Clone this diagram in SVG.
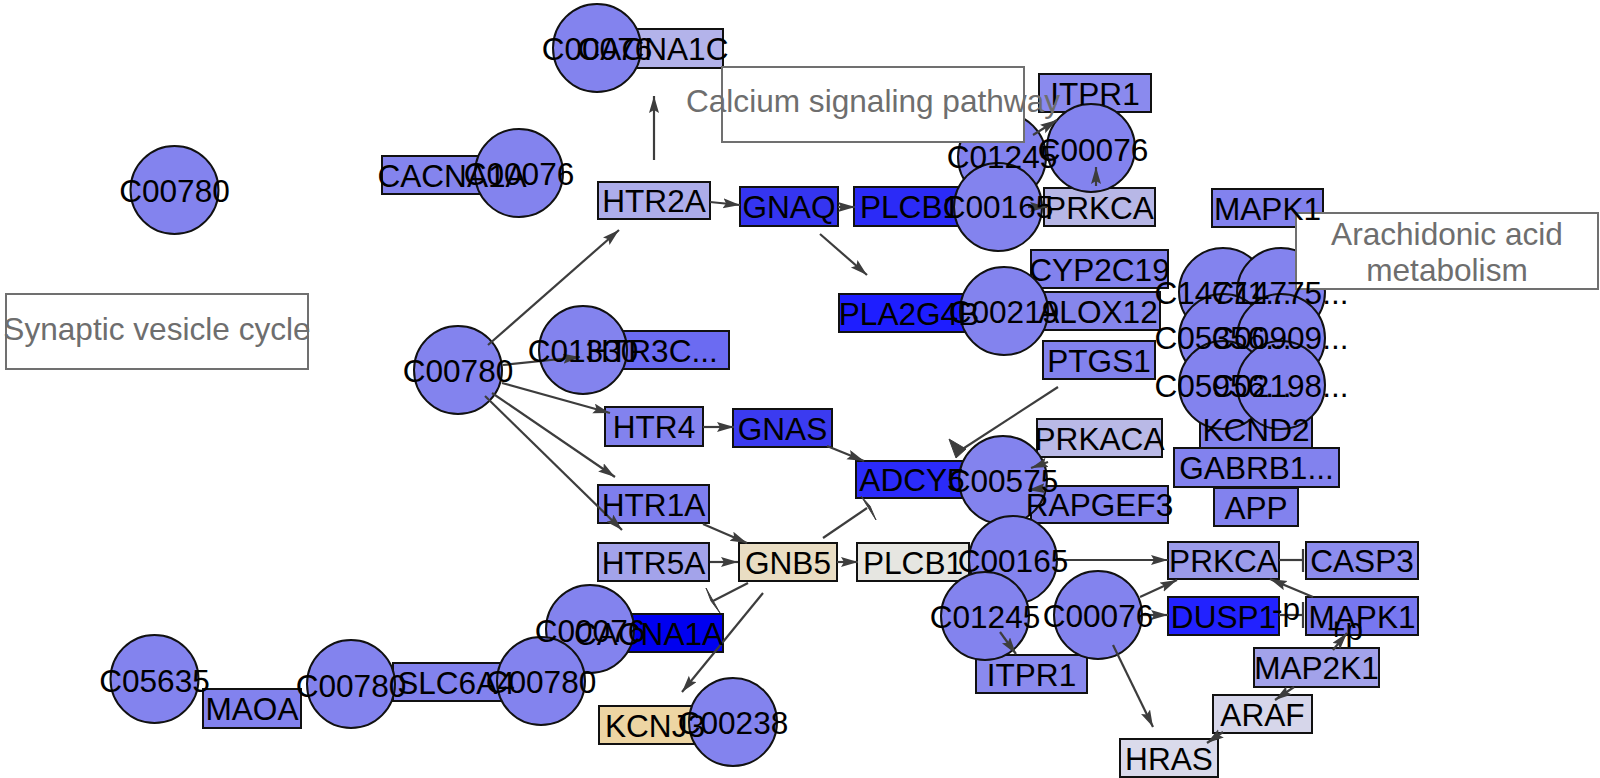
<svg xmlns="http://www.w3.org/2000/svg" width="1600" height="778" viewBox="0 0 1600 778">
<defs>
<style>
.g{stroke:#111;stroke-width:2}
.c{fill:#8383ee;stroke:#111;stroke-width:2}
.pw{fill:#fff;stroke:#707070;stroke-width:2}
.e{stroke:#3d3d3d;stroke-width:2.2;fill:none}
.ah{fill:#3d3d3d;stroke:#3d3d3d;stroke-width:1}
.l{font-family:"Liberation Sans",Arial,sans-serif;font-size:31.6px;fill:#000;text-anchor:middle}
.pt{font-family:"Liberation Sans",Arial,sans-serif;font-size:31.6px;fill:#6e6e6e;text-anchor:middle}
</style>
<marker id="arr" markerUnits="userSpaceOnUse" markerWidth="20" markerHeight="12" refX="17" refY="5" orient="auto">
<path d="M0,0 L17,5 L0,10 L3,5 z" fill="#3d3d3d"/>
</marker>
</defs>
<rect width="1600" height="778" fill="#fff"/>

<!-- gene nodes -->
<g id="node-CACNA1C-top"><rect class="g" x="583" y="29" width="140" height="39" fill="#b3b3ea"/></g>
<g id="node-CACNA1A-top"><rect class="g" x="382" y="156" width="140" height="38" fill="#8484ee"/></g>
<g id="node-HTR2A"><rect class="g" x="598" y="182" width="112" height="37" fill="#adadea"/></g>
<g id="node-GNAQ"><rect class="g" x="740" y="187" width="98" height="39" fill="#3535f0"/></g>
<g id="node-PLCB1-top"><rect class="g" x="854" y="187" width="112" height="39" fill="#2b2bf7"/></g>
<g id="node-ITPR1-top"><rect class="g" x="1039" y="74" width="112" height="38" fill="#8a8aee"/></g>
<g id="node-PRKCA-top"><rect class="g" x="1044" y="188" width="111" height="38" fill="#b7b7e6"/></g>
<g id="node-MAPK1-top"><rect class="g" x="1212" y="189" width="111" height="38" fill="#8282ee"/></g>
<g id="node-CYP2C19"><rect class="g" x="1031" y="250" width="137" height="38" fill="#8282ee"/></g>
<g id="node-ALOX12"><rect class="g" x="1036" y="292" width="124" height="38" fill="#8686ec"/></g>
<g id="node-PTGS1"><rect class="g" x="1043" y="341" width="112" height="38" fill="#8282ee"/></g>
<g id="node-PLA2G4B"><rect class="g" x="839" y="294" width="140" height="38" fill="#1e1eff"/></g>
<g id="node-HTR3C"><rect class="g" x="575" y="331" width="154" height="38" fill="#6b6bf2"/></g>
<g id="node-HTR4"><rect class="g" x="605" y="407" width="98" height="39" fill="#8282ee"/></g>
<g id="node-GNAS"><rect class="g" x="733" y="409" width="99" height="38" fill="#3b3bf0"/></g>
<g id="node-HTR1A"><rect class="g" x="598" y="485" width="111" height="38" fill="#7e7eee"/></g>
<g id="node-HTR5A"><rect class="g" x="598" y="543" width="111" height="38" fill="#a3a3ea"/></g>
<g id="node-GNB5"><rect class="g" x="739" y="543" width="98" height="38" fill="#e9ddc3"/></g>
<g id="node-PLCB1-low"><rect class="g" x="857" y="543" width="112" height="38" fill="#e6e6e1"/></g>
<g id="node-ADCY5"><rect class="g" x="856" y="461" width="112" height="37" fill="#2b2bfa"/></g>
<g id="node-PRKACA"><rect class="g" x="1037" y="419" width="125" height="38" fill="#b9b9e6"/></g>
<g id="node-RAPGEF3"><rect class="g" x="1031" y="486" width="137" height="37" fill="#8282ee"/></g>
<g id="node-KCND2"><rect class="g" x="1200" y="411" width="112" height="37" fill="#8282ee"/></g>
<g id="node-GABRB1"><rect class="g" x="1174" y="448" width="165" height="39" fill="#8282ee"/></g>
<g id="node-APP"><rect class="g" x="1214" y="488" width="84" height="38" fill="#8282ee"/></g>
<g id="node-PRKCA-low"><rect class="g" x="1168" y="542" width="111" height="37" fill="#9b9bea"/></g>
<g id="node-CASP3"><rect class="g" x="1306" y="542" width="112" height="37" fill="#8c8cee"/></g>
<g id="node-DUSP1"><rect class="g" x="1168" y="597" width="111" height="38" fill="#2222ff"/></g>
<g id="node-MAPK1-low"><rect class="g" x="1306" y="597" width="112" height="38" fill="#7777f0"/></g>
<g id="node-MAP2K1"><rect class="g" x="1254" y="648" width="125" height="39" fill="#a2a2ea"/></g>
<g id="node-ARAF"><rect class="g" x="1213" y="695" width="99" height="38" fill="#d6d6ea"/></g>
<g id="node-HRAS"><rect class="g" x="1120" y="739" width="98" height="38" fill="#dadaeb"/></g>
<g id="node-ITPR1-low"><rect class="g" x="976" y="655" width="111" height="38" fill="#8a8aee"/></g>
<g id="node-CACNA1A-low"><rect class="g" x="574" y="614" width="149" height="38" fill="#0000f0"/></g>
<g id="node-KCNJ3"><rect class="g" x="599" y="706" width="112" height="38" fill="#edd5a3"/></g>
<g id="node-MAOA"><rect class="g" x="203" y="689" width="98" height="39" fill="#8282ee"/></g>
<g id="node-SLC6A4"><rect class="g" x="393" y="663" width="126" height="38" fill="#8282ee"/></g>

<!-- compound nodes -->
<g id="node-C00780-a"><circle class="c" cx="174.5" cy="190" r="44"/></g>
<g id="node-C00076-a"><circle class="c" cx="597" cy="48" r="44"/></g>
<g id="node-C00076-b"><circle class="c" cx="519" cy="173" r="44"/></g>
<g id="node-C00780-b"><circle class="c" cx="458" cy="370" r="44"/></g>
<g id="node-C01330"><circle class="c" cx="583" cy="350" r="44"/></g>
<g id="node-C01245-a"><circle class="c" cx="1002" cy="157" r="44"/></g>
<g id="node-C00076-c"><circle class="c" cx="1091" cy="148" r="44"/></g>
<g id="node-C00165-a"><circle class="c" cx="998" cy="207" r="44"/></g>
<g id="node-C00219"><circle class="c" cx="1004" cy="311" r="44"/></g>
<g id="node-C14771"><circle class="c" cx="1223" cy="292" r="44"/></g>
<g id="node-C14775"><circle class="c" cx="1281" cy="292" r="44"/></g>
<g id="node-C05356"><circle class="c" cx="1223" cy="338" r="44"/></g>
<g id="node-C00909"><circle class="c" cx="1281" cy="338" r="44"/></g>
<g id="node-C05956"><circle class="c" cx="1223" cy="385" r="44"/></g>
<g id="node-C02198"><circle class="c" cx="1281" cy="385" r="44"/></g>
<g id="node-C00575"><circle class="c" cx="1003" cy="480" r="44"/></g>
<g id="node-C00165-b"><circle class="c" cx="1013" cy="560" r="44"/></g>
<g id="node-C01245-b"><circle class="c" cx="985" cy="616" r="44"/></g>
<g id="node-C00076-d"><circle class="c" cx="1098" cy="615" r="44"/></g>
<g id="node-C00238"><circle class="c" cx="733" cy="722" r="44"/></g>
<g id="node-C00076-e"><circle class="c" cx="590" cy="629" r="44"/></g>
<g id="node-C00780-c"><circle class="c" cx="541" cy="681" r="44"/></g>
<g id="node-C00780-d"><circle class="c" cx="351" cy="684" r="44"/></g>
<g id="node-C05635"><circle class="c" cx="154.5" cy="679" r="44"/></g>

<!-- pathway map nodes -->
<g id="map-calcium"><rect class="pw" x="722" y="67" width="302" height="75"/></g>
<g id="map-synaptic"><rect class="pw" x="6" y="294" width="302" height="75"/></g>
<g id="map-arachidonic"><rect class="pw" x="1296" y="213" width="302" height="76"/></g>

<!-- connectors -->
<g id="edges">
<line class="e" x1="654" y1="160" x2="654" y2="96" marker-end="url(#arr)"/>
<line class="e" x1="710" y1="202" x2="740" y2="205" marker-end="url(#arr)"/>
<line class="e" x1="838" y1="207" x2="855" y2="207" marker-end="url(#arr)"/>
<line class="e" x1="820" y1="234" x2="867" y2="275" marker-end="url(#arr)"/>
<line class="e" x1="1028" y1="207" x2="1047" y2="207" marker-end="url(#arr)"/>
<line class="e" x1="1096" y1="186" x2="1096" y2="167" marker-end="url(#arr)"/>
<line class="e" x1="1033" y1="135" x2="1057" y2="120" marker-end="url(#arr)"/>
<line class="e" x1="488" y1="345" x2="619" y2="230" marker-end="url(#arr)"/>
<line class="e" x1="503" y1="365" x2="580" y2="357" marker-end="url(#arr)"/>
<line class="e" x1="502" y1="383" x2="610" y2="413" marker-end="url(#arr)"/>
<line class="e" x1="492" y1="393" x2="615" y2="477" marker-end="url(#arr)"/>
<line class="e" x1="485" y1="396" x2="622" y2="530" marker-end="url(#arr)"/>
<line class="e" x1="703" y1="524" x2="747" y2="543" marker-end="url(#arr)"/>
<line class="e" x1="710" y1="562" x2="738" y2="562" marker-end="url(#arr)"/>
<line class="e" x1="703" y1="427" x2="734" y2="427" marker-end="url(#arr)"/>
<line class="e" x1="827" y1="446" x2="864" y2="461" marker-end="url(#arr)"/>
<line class="e" x1="823" y1="538" x2="867" y2="508"/>
<polygon class="ah" points="861,496 876,520 870,506"/>
<line class="e" x1="1058" y1="387" x2="958" y2="452"/>
<polygon class="ah" points="949,439 956,458 966,449"/>
<line class="e" x1="1048" y1="462" x2="1031" y2="468" marker-end="url(#arr)"/>
<line class="e" x1="1047" y1="488" x2="1028" y2="490" marker-end="url(#arr)"/>
<line class="e" x1="1056" y1="560" x2="1168" y2="560" marker-end="url(#arr)"/>
<line class="e" x1="1140" y1="597" x2="1177" y2="580" marker-end="url(#arr)"/>
<line class="e" x1="1142" y1="615" x2="1168" y2="615" marker-end="url(#arr)"/>
<line class="e" x1="1113" y1="645" x2="1153" y2="727" marker-end="url(#arr)"/>
<line class="e" x1="1000" y1="632" x2="1016" y2="654" marker-end="url(#arr)"/>
<line class="e" x1="1279" y1="560" x2="1303" y2="560"/>
<line class="e" x1="1303" y1="549" x2="1303" y2="572"/>
<line class="e" x1="1313" y1="597" x2="1270" y2="579" marker-end="url(#arr)"/>
<line class="e" x1="1279" y1="615" x2="1303" y2="615"/>
<line class="e" x1="1303" y1="602" x2="1303" y2="628"/>
<line class="e" x1="1333" y1="650" x2="1347" y2="633" marker-end="url(#arr)"/>
<line class="e" x1="1294" y1="687" x2="1275" y2="700" marker-end="url(#arr)"/>
<line class="e" x1="1223" y1="732" x2="1207" y2="743" marker-end="url(#arr)"/>
<line class="e" x1="837" y1="562" x2="858" y2="562" marker-end="url(#arr)"/>
<line class="e" x1="748" y1="583" x2="713" y2="601"/>
<polygon class="ah" points="706,588 720,613 711,601"/>
<line class="e" x1="763" y1="593" x2="682" y2="692" marker-end="url(#arr)"/>
</g>

<!-- labels -->
<g id="labels">
<text class="l" x="653" y="60">CACNA1C</text>
<text class="l" x="452" y="186.5">CACNA1A</text>
<text class="l" x="654" y="212">HTR2A</text>
<text class="l" x="789" y="218">GNAQ</text>
<text class="l" x="910" y="218">PLCB1</text>
<text class="l" x="1095" y="104.5">ITPR1</text>
<text class="l" x="1099.5" y="218.5">PRKCA</text>
<text class="l" x="1267.5" y="219.5">MAPK1</text>
<text class="l" x="1099.5" y="280.5">CYP2C19</text>
<text class="l" x="1098" y="322.5">ALOX12</text>
<text class="l" x="1099" y="371.5">PTGS1</text>
<text class="l" x="909" y="324.5">PLA2G4B</text>
<text class="l" x="652" y="361.5">HTR3C...</text>
<text class="l" x="654" y="438">HTR4</text>
<text class="l" x="782.5" y="439.5">GNAS</text>
<text class="l" x="653.5" y="515.5">HTR1A</text>
<text class="l" x="653.5" y="573.5">HTR5A</text>
<text class="l" x="788" y="573.5">GNB5</text>
<text class="l" x="913" y="573.5">PLCB1</text>
<text class="l" x="912" y="491">ADCY5</text>
<text class="l" x="1099.5" y="449.5">PRKACA</text>
<text class="l" x="1099.5" y="516">RAPGEF3</text>
<text class="l" x="1256" y="441">KCND2</text>
<text class="l" x="1256.5" y="479">GABRB1...</text>
<text class="l" x="1256" y="518.5">APP</text>
<text class="l" x="1223.5" y="572">PRKCA</text>
<text class="l" x="1362" y="572">CASP3</text>
<text class="l" x="1223.5" y="627.5">DUSP1</text>
<text class="l" x="1362" y="627.5">MAPK1</text>
<text class="l" x="1316.5" y="679">MAP2K1</text>
<text class="l" x="1262.5" y="725.5">ARAF</text>
<text class="l" x="1169" y="769.5">HRAS</text>
<text class="l" x="1031.5" y="685.5">ITPR1</text>
<text class="l" x="648.5" y="644.5">CACNA1A</text>
<text class="l" x="655" y="736.5">KCNJ3</text>
<text class="l" x="252" y="720">MAOA</text>
<text class="l" x="456" y="693.5">SLC6A4</text>

<text class="l" x="174.5" y="201.5">C00780</text>
<text class="l" x="597" y="59.5">C00076</text>
<text class="l" x="519" y="184.5">C00076</text>
<text class="l" x="458" y="381.5">C00780</text>
<text class="l" x="583" y="361.5">C01330</text>
<text class="l" x="1002" y="168">C01245</text>
<text class="l" x="1093" y="161">C00076</text>
<text class="l" x="998" y="217.5">C00165</text>
<text class="l" x="1004" y="322.5">C00219</text>
<text class="l" x="1223" y="304">C14771...</text>
<text class="l" x="1280" y="304">C14775...</text>
<text class="l" x="1223" y="348.5">C05356...</text>
<text class="l" x="1280" y="348.5">C00909...</text>
<text class="l" x="1223" y="396.5">C05956...</text>
<text class="l" x="1280" y="396.5">C02198...</text>
<text class="l" x="1003" y="491.5">C00575</text>
<text class="l" x="1013" y="572">C00165</text>
<text class="l" x="985" y="628">C01245</text>
<text class="l" x="1098" y="626.5">C00076</text>
<text class="l" x="733" y="733.5">C00238</text>
<text class="l" x="590" y="641.5">C00076</text>
<text class="l" x="541" y="692.5">C00780</text>
<text class="l" x="351" y="696.5">C00780</text>
<text class="l" x="154.5" y="691.5">C05635</text>

<text class="l" x="1286" y="620">-p</text>
<text class="l" x="1345" y="640">+p</text>

<text class="pt" x="873" y="112">Calcium signaling pathway</text>
<text class="pt" x="157" y="340">Synaptic vesicle cycle</text>
<text class="pt" x="1447" y="245">Arachidonic acid</text>
<text class="pt" x="1447" y="281">metabolism</text>
</g>
</svg>
